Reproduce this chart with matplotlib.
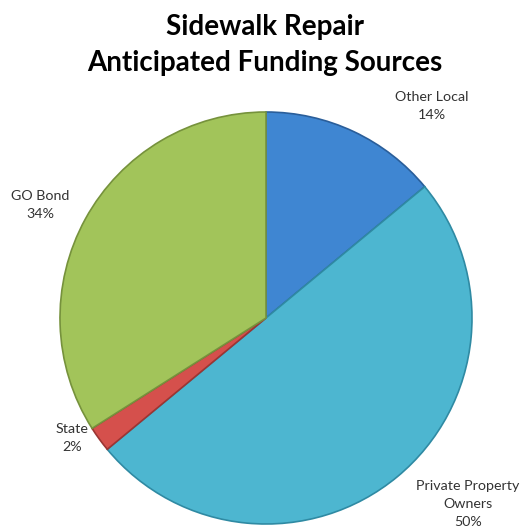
import matplotlib.pyplot as plt

# Funding split for the sidewalk repair program
labels = ["Other Local", "Private Property\nOwners", "State", "GO Bond"]
shares = [14, 50, 2, 34]
colors = ["#3f86d2", "#4db6d0", "#d5504c", "#a2c45a"]
edges = ["#2a5e9a", "#2f8aa3", "#9c3533", "#76923c"]

fig = plt.figure(figsize=(5.29, 5.29), dpi=100)
ax = fig.add_axes([0, 0, 1, 1])

cx, cy, r = 266, 211, 206
wedges, _ = ax.pie(shares, colors=colors, startangle=90, counterclock=False,
                   center=(cx, cy), radius=r, frame=True,
                   wedgeprops=dict(linewidth=1.2))
for w, ec in zip(wedges, edges):
    w.set_edgecolor(ec)
ax.set_xlim(0, 529)
ax.set_ylim(0, 529)
ax.set_aspect("equal")
ax.axis("off")

# label positions (pixels from the top-left)
label_pos = [(432, 91), (468, 480), (72, 423), (40, 190)]
for lab, val, (x, y) in zip(labels, shares, label_pos):
    ax.text(x, 529 - y, f"{lab}\n{val}%", ha="center", va="top",
            fontsize=10.3, family="Lato", color="#333333", linespacing=1.6)

fig.text(0.5, 1 - 14 / 529, "Sidewalk Repair\nAnticipated Funding Sources",
         ha="center", va="top", fontsize=20, fontweight="bold",
         family="Lato", linespacing=1.5)

fig.savefig("out.png", dpi=100)
